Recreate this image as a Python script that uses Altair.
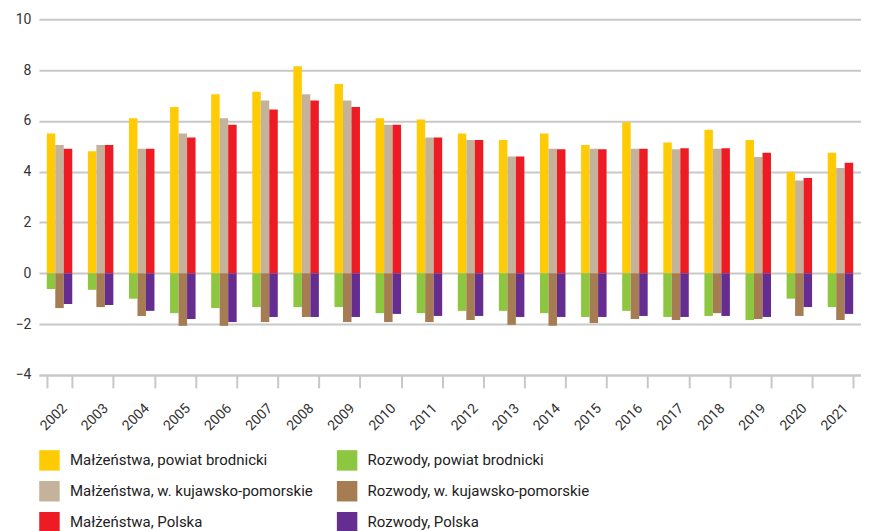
import altair as alt
import pandas as pd

years = [str(y) for y in range(2002, 2022)]

series_names = [
    "Małżeństwa, powiat brodnicki",
    "Rozwody, powiat brodnicki",
    "Małżeństwa, w. kujawsko-pomorskie",
    "Rozwody, w. kujawsko-pomorskie",
    "Małżeństwa, Polska",
    "Rozwody, Polska",
]
series_colors = ["#FFCB05", "#8DC63F", "#C4B39A", "#A67C52", "#ED1C24", "#662D91"]
series_slot = [0, 0, 1, 1, 2, 2]

m_brod = [5.5, 4.8, 6.1, 6.55, 7.05, 7.15, 8.15, 7.45, 6.1, 6.05, 5.5, 5.25, 5.5, 5.05, 5.95, 5.15, 5.65, 5.25, 4.0, 4.75]
m_kuj = [5.05, 5.05, 4.9, 5.5, 6.1, 6.8, 7.05, 6.8, 5.85, 5.35, 5.25, 4.6, 4.9, 4.9, 4.9, 4.88, 4.9, 4.58, 3.65, 4.15]
m_pl = [4.9, 5.05, 4.9, 5.35, 5.85, 6.45, 6.8, 6.55, 5.85, 5.35, 5.25, 4.6, 4.88, 4.88, 4.9, 4.92, 4.92, 4.75, 3.75, 4.35]
r_brod = [-0.62, -0.65, -1.0, -1.57, -1.37, -1.33, -1.33, -1.33, -1.57, -1.57, -1.48, -1.48, -1.57, -1.72, -1.48, -1.72, -1.68, -1.84, -1.0, -1.33]
r_kuj = [-1.37, -1.33, -1.68, -2.07, -2.07, -1.92, -1.72, -1.92, -1.92, -1.92, -1.84, -2.03, -2.07, -1.96, -1.8, -1.84, -1.57, -1.8, -1.68, -1.84]
r_pl = [-1.21, -1.25, -1.48, -1.8, -1.92, -1.72, -1.72, -1.72, -1.6, -1.68, -1.68, -1.72, -1.72, -1.72, -1.68, -1.72, -1.68, -1.72, -1.33, -1.6]

series_values = [m_brod, r_brod, m_kuj, r_kuj, m_pl, r_pl]

rows = []
for name, slot, vals in zip(series_names, series_slot, series_values):
    for y, v in zip(years, vals):
        rows.append({"rok": y, "seria": name, "slot": slot, "wartosc": v})
df = pd.DataFrame(rows)

grid_color = "#c8c8c8"
font = "Roboto"

chart = alt.Chart(df).mark_bar(strokeWidth=0).encode(
    x=alt.X(
        "rok:N",
        sort=years,
        scale=alt.Scale(paddingInner=0.38, paddingOuter=0.19),
        axis=alt.Axis(
            title=None,
            labelAngle=-45,
            labelAlign="right",
            labelBaseline="middle",
            labelPadding=18,
            labelOffset=5,
            labelFontSize=14,
            labelColor="#333333",
            labelFont=font,
            tickBand="extent",
            tickSize=13,
            tickWidth=2,
            tickColor=grid_color,
            domainColor=grid_color,
            domainWidth=2,
            grid=False,
        ),
    ),
    xOffset=alt.XOffset("slot:O", scale=alt.Scale(paddingInner=0, paddingOuter=0)),
    y=alt.Y(
        "wartosc:Q",
        scale=alt.Scale(domain=[-4, 10], nice=False),
        axis=alt.Axis(
            title=None,
            values=[-4, -2, 0, 2, 4, 6, 8, 10],
            domain=False,
            ticks=False,
            labelPadding=8,
            labelFontSize=14,
            labelColor="#333333",
            labelFont=font,
            gridColor=grid_color,
            gridWidth=2,
        ),
    ),
    color=alt.Color(
        "seria:N",
        scale=alt.Scale(domain=series_names, range=series_colors),
        legend=alt.Legend(
            title=None,
            orient="none",
            legendX=0,
            legendY=431,
            columns=2,
            direction="horizontal",
            symbolType="square",
            symbolSize=420,
            symbolStrokeWidth=0,
            labelFontSize=15,
            labelFont=font,
            labelColor="#222222",
            labelOffset=10,
            labelLimit=400,
            rowPadding=10,
            columnPadding=23,
            padding=0,
        ),
    ),
).properties(
    width=823,
    height=356,
    padding={"left": 7, "top": 4, "right": 0, "bottom": 0},
).configure_view(stroke=None)

chart.save("out.html", embed_options={"renderer": "svg", "actions": False})
